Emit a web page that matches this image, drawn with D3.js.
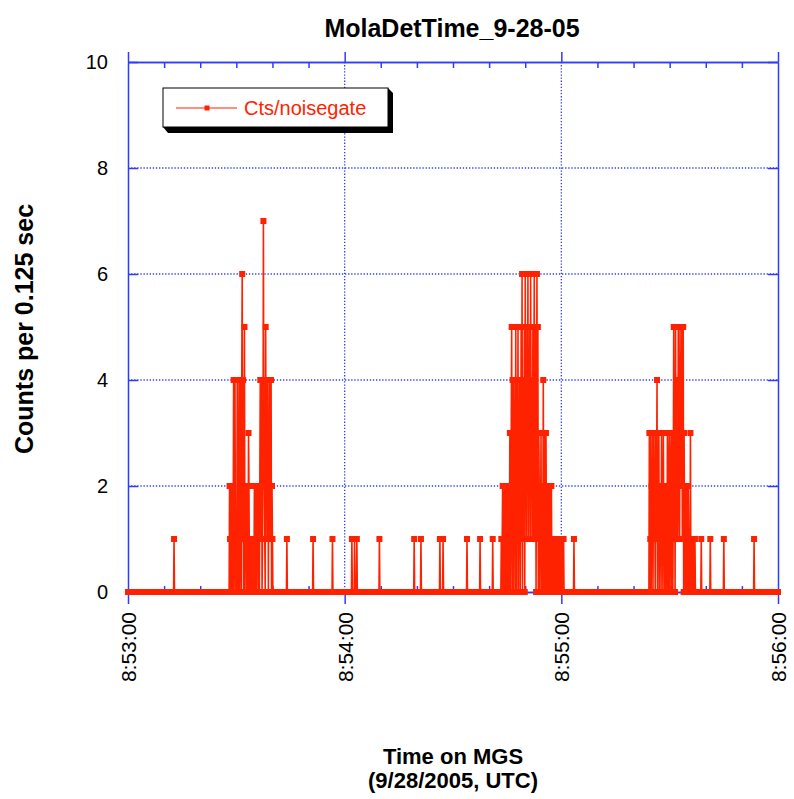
<!DOCTYPE html>
<html>
<head>
<meta charset="utf-8">
<script src="https://cdn.jsdelivr.net/npm/d3@7"></script>
<style>
  body { margin: 0; background: #fff; }
  text { font-family: "Liberation Sans", Arial, Helvetica, sans-serif; }
</style>
</head>
<body>
<div id="chart"></div>
<script>
// seconds after 8:53:00 for single-count samples
var spikeTimes = [12.75, 44.0, 51.25, 56.625, 62.0, 62.75, 63.375, 69.625, 79.25, 81.125,
  86.375, 87.25, 93.875, 97.5, 101.0, 123.5, 158.75, 161.25, 165.0, 173.375];

// bursts: start time (s) and counts per 0.125 s sample
var burstStarts = [28.0, 103.25, 144.25];
var burst1 = [0,2, 1,0, 2,0,1, 2,0, 1,4, 0,1, 4,1,0, 1,0, 4,1, 0,1, 4,0, 1,4,1, 0,4, 6,1, 4,0,
  2,5, 0,2,1, 2,0, 1,2, 0,3, 2,0,1, 0,1, 1,0, 1,0, 0,1,0, 2,0, 1,2, 0,2, 1,2,0, 2,1, 0,2,
  4,1, 2,4,0, 1,2, 7,2, 4,1,0, 5,2, 4,1, 2,4,0, 3,2, 4,1, 2,4,0, 2,1, 0];
var burst2 = [0,1, 0,1, 2,0, 1,2,0, 2,0, 1,2, 0,2, 1,0,2, 0,1, 3,0, 2,3, 5,0,4, 2,0, 4,1,
  3,0,5, 2,0, 4,1, 5,0, 3,1,4, 0,2, 5,1, 6,0,3, 4,1, 5,0, 6,2,4, 1,5, 3,6, 1,4,2, 5,1, 6,3,
  4,1, 2,5,1, 3,6, 1,2, 5,0,3, 6,1, 5,0, 3,2,0, 2,1, 3,0, 1,2,0, 4,1, 0,3, 2,0, 3,1,0, 2,0,
  1,2, 0,1,2, 0,1, 2,0, 1,0, 1,0,1, 0,1, 0,1, 1,0,1, 0,1, 1,0, 0,1,0, 1,0, 1,0, 1,0,1, 0];
var burst3 = [0,3, 0,1, 3,0,2, 1,3, 0,2, 3,1, 2,0,3, 1,2, 4,0, 2,1, 3,0,2, 1,2, 0,3, 1,2,0,
  3,1, 2,0, 1,2, 0,1,0, 3,1, 0,2, 3,0,1, 2,3, 0,1, 3,0,2, 5,1, 3,0, 5,2,1, 3,4, 1,5, 3,2,1,
  5,3, 4,2, 5,1,3, 5,0, 3,1, 0,2,1, 0,2, 1,0, 2,1,0, 1,0, 3,0, 1,0,0, 1,0, 0,1, 0,1,0, 0];

var xMajor = [0, 60, 120, 180];
var xLabels = ["8:53:00", "8:54:00", "8:55:00", "8:56:00"];
var yTicks = [0, 2, 4, 6, 8, 10];

var red = "#ff2200", blue = "#2f3cff";

var svg = d3.select("#chart").append("svg")
  .attr("width", 794)
  .attr("height", 799);

var x = d3.scaleLinear().domain([0, 180]).range([128, 778]);
var y = d3.scaleLinear().domain([0, 10]).range([592, 62]);

// build the sample series (every 0.125 s)
var counts = d3.range(180 * 8 + 1).map(function () { return 0; });
spikeTimes.forEach(function (t) { counts[Math.round(t * 8)] = 1; });
[burst1, burst2, burst3].forEach(function (b, i) {
  var s = Math.round(burstStarts[i] * 8);
  b.forEach(function (v, j) { counts[s + j] = v; });
});
var series = counts.map(function (v, i) { return { t: i / 8, v: v }; });

var xMinor = d3.range(0, 181, 10).filter(function (d) { return d % 60 !== 0; });

// grid
svg.append("g").selectAll("line.gy")
  .data(yTicks.filter(function (d) { return d > 0 && d < 10; }))
  .enter().append("line")
  .attr("x1", 128).attr("x2", 778)
  .attr("y1", d => y(d)).attr("y2", d => y(d))
  .attr("stroke", blue).attr("stroke-width", 1.3)
  .attr("stroke-dasharray", "1.3,1.8");
svg.append("g").selectAll("line.gx")
  .data([60, 120])
  .enter().append("line")
  .attr("y1", 62).attr("y2", 592)
  .attr("x1", d => x(d)).attr("x2", d => x(d))
  .attr("stroke", blue).attr("stroke-width", 1.3)
  .attr("stroke-dasharray", "1.3,1.8");

function styleAxis(g) {
  g.selectAll("path, line").attr("stroke", blue).attr("stroke-width", 1.5);
  g.selectAll("text").attr("fill", "#000").attr("font-size", 20)
    .attr("font-family", "'Liberation Sans', Arial, sans-serif");
}

// left axis, ticks inward
svg.append("g").attr("transform", "translate(128,0)")
  .call(d3.axisLeft(y).tickValues(yTicks).tickSizeInner(-10).tickSizeOuter(0).tickPadding(20))
  .call(styleAxis);
// right axis
svg.append("g").attr("transform", "translate(778,0)")
  .call(d3.axisLeft(y).tickValues(yTicks).tickSize(10).tickSizeOuter(0).tickFormat(""))
  .call(styleAxis);
// top axis
svg.append("g").attr("transform", "translate(0,62)")
  .call(d3.axisTop(x).tickValues(xMajor).tickSize(10).tickSizeOuter(0).tickFormat(""))
  .call(styleAxis);
svg.append("g").attr("transform", "translate(0,62)")
  .call(d3.axisBottom(x).tickValues(xMinor).tickSize(6).tickSizeOuter(0).tickFormat(""))
  .call(styleAxis);
// bottom axis
var bottom = svg.append("g").attr("transform", "translate(0,592)")
  .call(d3.axisBottom(x).tickValues(xMajor).tickSize(12).tickSizeOuter(0)
    .tickFormat(function (d, i) { return xLabels[i]; }))
  .call(styleAxis);
bottom.selectAll(".tick text")
  .attr("font-size", 21)
  .attr("transform", "translate(0,20) rotate(-90)")
  .attr("text-anchor", "end")
  .attr("x", 0).attr("y", 0).attr("dy", "0.35em");
svg.append("g").attr("transform", "translate(0,592)")
  .call(d3.axisTop(x).tickValues(xMinor).tickSize(6).tickSizeOuter(0).tickFormat(""))
  .call(styleAxis);

// data line + square markers
var line = d3.line().x(d => x(d.t)).y(d => y(d.v));
svg.append("path")
  .datum(series)
  .attr("d", line)
  .attr("fill", "none")
  .attr("stroke", red)
  .attr("stroke-width", 1.6);
svg.append("g").selectAll("rect")
  .data(series)
  .enter().append("rect")
  .attr("x", d => x(d.t) - 3)
  .attr("y", d => y(d.v) - 3)
  .attr("width", 6).attr("height", 6)
  .attr("fill", red);

// legend
var lg = svg.append("g");
lg.append("polygon")
  .attr("points", "163,127 168,133 393,133 393,93 388,88 388,127")
  .attr("fill", "#000");
lg.append("rect")
  .attr("x", 163).attr("y", 88).attr("width", 225).attr("height", 39)
  .attr("fill", "#fff").attr("stroke", "#000").attr("stroke-width", 1);
lg.append("line")
  .attr("x1", 176).attr("x2", 237).attr("y1", 108).attr("y2", 108)
  .attr("stroke", red).attr("stroke-width", 1.2);
lg.append("rect")
  .attr("x", 204.5).attr("y", 105.5).attr("width", 5).attr("height", 5)
  .attr("fill", red);
lg.append("text")
  .attr("x", 244).attr("y", 115)
  .attr("font-size", 20)
  .attr("fill", red)
  .text("Cts/noisegate");

// titles
svg.append("text")
  .attr("x", 452).attr("y", 37)
  .attr("text-anchor", "middle")
  .attr("font-size", 25).attr("font-weight", "bold")
  .text("MolaDetTime_9-28-05");

svg.append("text")
  .attr("transform", "translate(33,329) rotate(-90)")
  .attr("text-anchor", "middle")
  .attr("font-size", 25).attr("font-weight", "bold")
  .text("Counts per 0.125 sec");

svg.append("text")
  .attr("x", 453).attr("y", 764)
  .attr("text-anchor", "middle")
  .attr("font-size", 22).attr("font-weight", "bold")
  .text("Time on MGS");
svg.append("text")
  .attr("x", 453).attr("y", 788)
  .attr("text-anchor", "middle")
  .attr("font-size", 22).attr("font-weight", "bold")
  .text("(9/28/2005, UTC)");
</script>
</body>
</html>
